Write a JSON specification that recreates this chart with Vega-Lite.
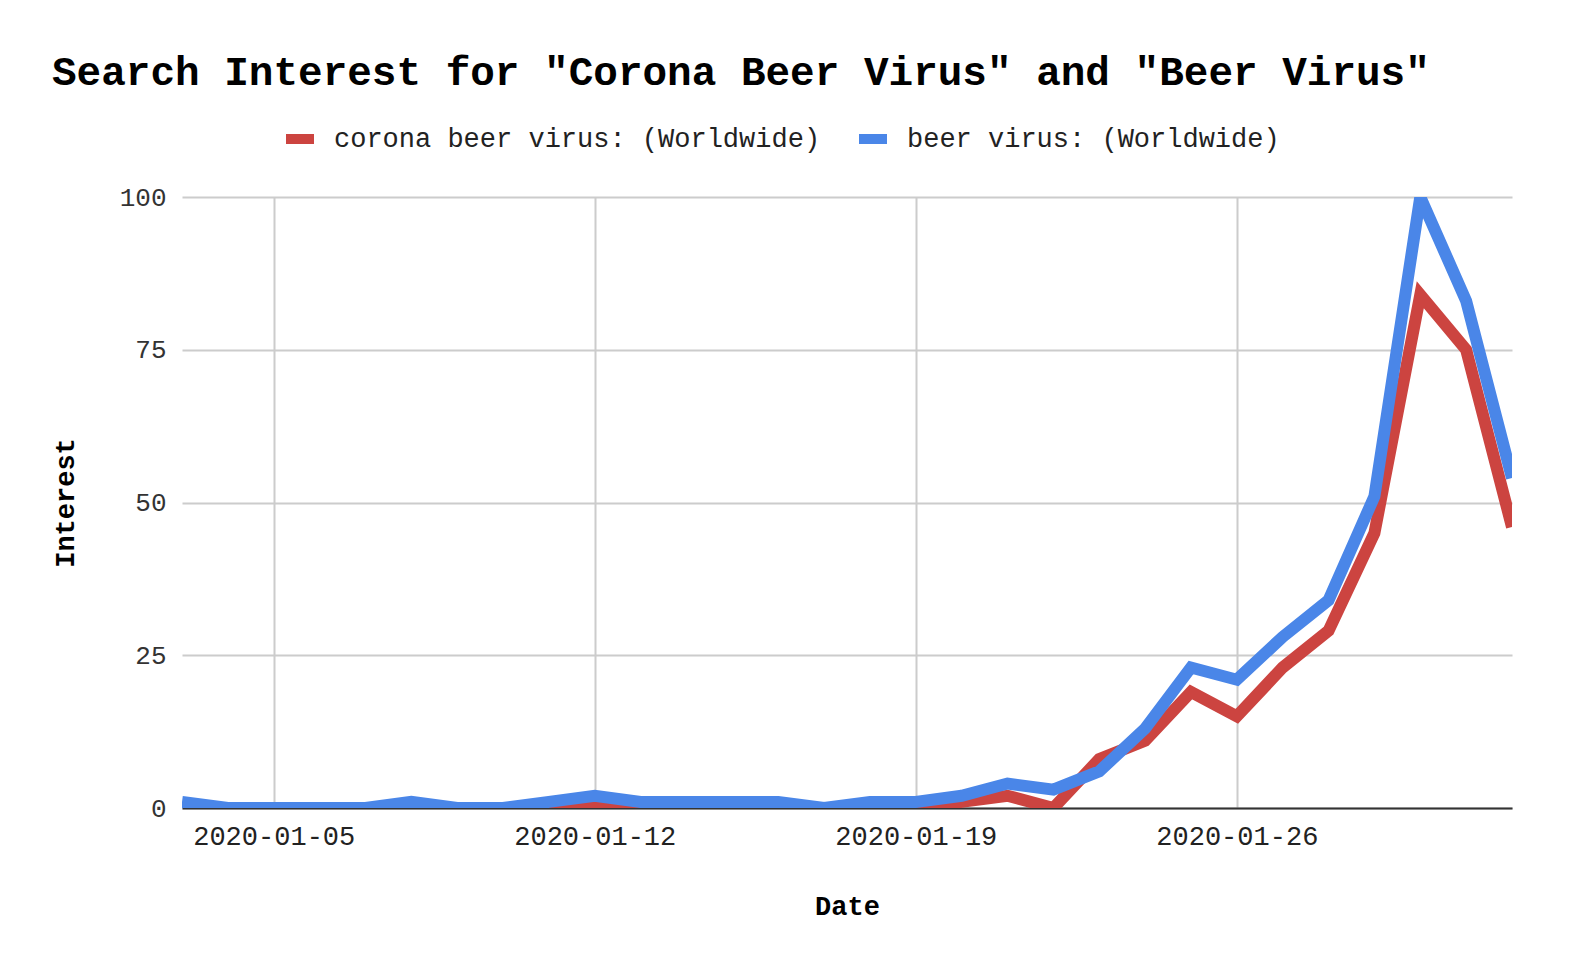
{
  "$schema": "https://vega.github.io/schema/vega-lite/v6.json",
  "autosize": {"type": "none"},
  "width": 1330,
  "height": 611,
  "padding": {"left": 182, "top": 197, "right": 60, "bottom": 169},
  "background": "white",
  "title": {
    "text": "Search Interest for \"Corona Beer Virus\" and \"Beer Virus\"",
    "anchor": "start",
    "frame": "group",
    "dx": -130,
    "offset": -6,
    "baseline": "alphabetic",
    "font": "Liberation Mono",
    "fontSize": 41,
    "fontWeight": "bold",
    "color": "#000"
  },
  "config": {"view": {"stroke": null}},
  "data": {
    "values": [
      {"date": "2020-01-03", "series": "corona beer virus: (Worldwide)", "interest": 0},
      {"date": "2020-01-04", "series": "corona beer virus: (Worldwide)", "interest": 0},
      {"date": "2020-01-05", "series": "corona beer virus: (Worldwide)", "interest": 0},
      {"date": "2020-01-06", "series": "corona beer virus: (Worldwide)", "interest": 0},
      {"date": "2020-01-07", "series": "corona beer virus: (Worldwide)", "interest": 0},
      {"date": "2020-01-08", "series": "corona beer virus: (Worldwide)", "interest": 0},
      {"date": "2020-01-09", "series": "corona beer virus: (Worldwide)", "interest": 0},
      {"date": "2020-01-10", "series": "corona beer virus: (Worldwide)", "interest": 0},
      {"date": "2020-01-11", "series": "corona beer virus: (Worldwide)", "interest": 0},
      {"date": "2020-01-12", "series": "corona beer virus: (Worldwide)", "interest": 1},
      {"date": "2020-01-13", "series": "corona beer virus: (Worldwide)", "interest": 0},
      {"date": "2020-01-14", "series": "corona beer virus: (Worldwide)", "interest": 0},
      {"date": "2020-01-15", "series": "corona beer virus: (Worldwide)", "interest": 0},
      {"date": "2020-01-16", "series": "corona beer virus: (Worldwide)", "interest": 0},
      {"date": "2020-01-17", "series": "corona beer virus: (Worldwide)", "interest": 0},
      {"date": "2020-01-18", "series": "corona beer virus: (Worldwide)", "interest": 0},
      {"date": "2020-01-19", "series": "corona beer virus: (Worldwide)", "interest": 0},
      {"date": "2020-01-20", "series": "corona beer virus: (Worldwide)", "interest": 1},
      {"date": "2020-01-21", "series": "corona beer virus: (Worldwide)", "interest": 2},
      {"date": "2020-01-22", "series": "corona beer virus: (Worldwide)", "interest": 0},
      {"date": "2020-01-23", "series": "corona beer virus: (Worldwide)", "interest": 8},
      {"date": "2020-01-24", "series": "corona beer virus: (Worldwide)", "interest": 11},
      {"date": "2020-01-25", "series": "corona beer virus: (Worldwide)", "interest": 19},
      {"date": "2020-01-26", "series": "corona beer virus: (Worldwide)", "interest": 15},
      {"date": "2020-01-27", "series": "corona beer virus: (Worldwide)", "interest": 23},
      {"date": "2020-01-28", "series": "corona beer virus: (Worldwide)", "interest": 29},
      {"date": "2020-01-29", "series": "corona beer virus: (Worldwide)", "interest": 45},
      {"date": "2020-01-30", "series": "corona beer virus: (Worldwide)", "interest": 84},
      {"date": "2020-01-31", "series": "corona beer virus: (Worldwide)", "interest": 75},
      {"date": "2020-02-01", "series": "corona beer virus: (Worldwide)", "interest": 46},
      {"date": "2020-01-03", "series": "beer virus: (Worldwide)", "interest": 1},
      {"date": "2020-01-04", "series": "beer virus: (Worldwide)", "interest": 0},
      {"date": "2020-01-05", "series": "beer virus: (Worldwide)", "interest": 0},
      {"date": "2020-01-06", "series": "beer virus: (Worldwide)", "interest": 0},
      {"date": "2020-01-07", "series": "beer virus: (Worldwide)", "interest": 0},
      {"date": "2020-01-08", "series": "beer virus: (Worldwide)", "interest": 1},
      {"date": "2020-01-09", "series": "beer virus: (Worldwide)", "interest": 0},
      {"date": "2020-01-10", "series": "beer virus: (Worldwide)", "interest": 0},
      {"date": "2020-01-11", "series": "beer virus: (Worldwide)", "interest": 1},
      {"date": "2020-01-12", "series": "beer virus: (Worldwide)", "interest": 2},
      {"date": "2020-01-13", "series": "beer virus: (Worldwide)", "interest": 1},
      {"date": "2020-01-14", "series": "beer virus: (Worldwide)", "interest": 1},
      {"date": "2020-01-15", "series": "beer virus: (Worldwide)", "interest": 1},
      {"date": "2020-01-16", "series": "beer virus: (Worldwide)", "interest": 1},
      {"date": "2020-01-17", "series": "beer virus: (Worldwide)", "interest": 0},
      {"date": "2020-01-18", "series": "beer virus: (Worldwide)", "interest": 1},
      {"date": "2020-01-19", "series": "beer virus: (Worldwide)", "interest": 1},
      {"date": "2020-01-20", "series": "beer virus: (Worldwide)", "interest": 2},
      {"date": "2020-01-21", "series": "beer virus: (Worldwide)", "interest": 4},
      {"date": "2020-01-22", "series": "beer virus: (Worldwide)", "interest": 3},
      {"date": "2020-01-23", "series": "beer virus: (Worldwide)", "interest": 6},
      {"date": "2020-01-24", "series": "beer virus: (Worldwide)", "interest": 13},
      {"date": "2020-01-25", "series": "beer virus: (Worldwide)", "interest": 23},
      {"date": "2020-01-26", "series": "beer virus: (Worldwide)", "interest": 21},
      {"date": "2020-01-27", "series": "beer virus: (Worldwide)", "interest": 28},
      {"date": "2020-01-28", "series": "beer virus: (Worldwide)", "interest": 34},
      {"date": "2020-01-29", "series": "beer virus: (Worldwide)", "interest": 51},
      {"date": "2020-01-30", "series": "beer virus: (Worldwide)", "interest": 100},
      {"date": "2020-01-31", "series": "beer virus: (Worldwide)", "interest": 83},
      {"date": "2020-02-01", "series": "beer virus: (Worldwide)", "interest": 54}
    ]
  },
  "mark": {"type": "line", "strokeWidth": 12, "clip": true},
  "encoding": {
    "x": {
      "field": "date",
      "type": "temporal",
      "scale": {
        "type": "utc",
        "domain": [
          {"year": 2020, "month": 1, "date": 3, "utc": true},
          {"year": 2020, "month": 2, "date": 1, "utc": true}
        ]
      },
      "axis": {
        "values": [
          {"year": 2020, "month": 1, "date": 5, "utc": true},
          {"year": 2020, "month": 1, "date": 12, "utc": true},
          {"year": 2020, "month": 1, "date": 19, "utc": true},
          {"year": 2020, "month": 1, "date": 26, "utc": true}
        ],
        "labelExpr": "utcFormat(datum.value, '%Y-%m-%d')",
        "labelFont": "Liberation Mono",
        "labelFontSize": 27,
        "labelColor": "#222",
        "labelPadding": 15,
        "ticks": false,
        "domainColor": "#333",
        "domainWidth": 2,
        "grid": true,
        "gridColor": "#ccc",
        "gridWidth": 2,
        "title": "Date",
        "titleFont": "Liberation Mono",
        "titleFontSize": 27,
        "titleFontWeight": "bold",
        "titleColor": "#000",
        "titlePadding": 44
      }
    },
    "y": {
      "field": "interest",
      "type": "quantitative",
      "scale": {"domain": [0, 100]},
      "axis": {
        "values": [0, 25, 50, 75, 100],
        "labelFont": "Liberation Mono",
        "labelFontSize": 26,
        "labelColor": "#333",
        "labelPadding": 16,
        "domain": false,
        "ticks": false,
        "grid": true,
        "gridColor": "#ccc",
        "gridWidth": 2,
        "title": "Interest",
        "titleFont": "Liberation Mono",
        "titleFontSize": 27,
        "titleFontWeight": "bold",
        "titleColor": "#000",
        "titlePadding": 40
      }
    },
    "color": {
      "field": "series",
      "type": "nominal",
      "sort": ["corona beer virus: (Worldwide)", "beer virus: (Worldwide)"],
      "scale": {
        "domain": ["corona beer virus: (Worldwide)", "beer virus: (Worldwide)"],
        "range": ["#cc4440", "#4a86e8"]
      },
      "legend": {
        "title": null,
        "orient": "none",
        "legendX": 99,
        "legendY": -77,
        "direction": "horizontal",
        "padding": 0,
        "columnPadding": 18,
        "labelFont": "Liberation Mono",
        "labelFontSize": 27,
        "labelColor": "#222",
        "labelOffset": 15,
        "labelLimit": 800,
        "symbolType": "stroke",
        "symbolSize": 784,
        "symbolStrokeWidth": 10
      }
    }
  }
}
